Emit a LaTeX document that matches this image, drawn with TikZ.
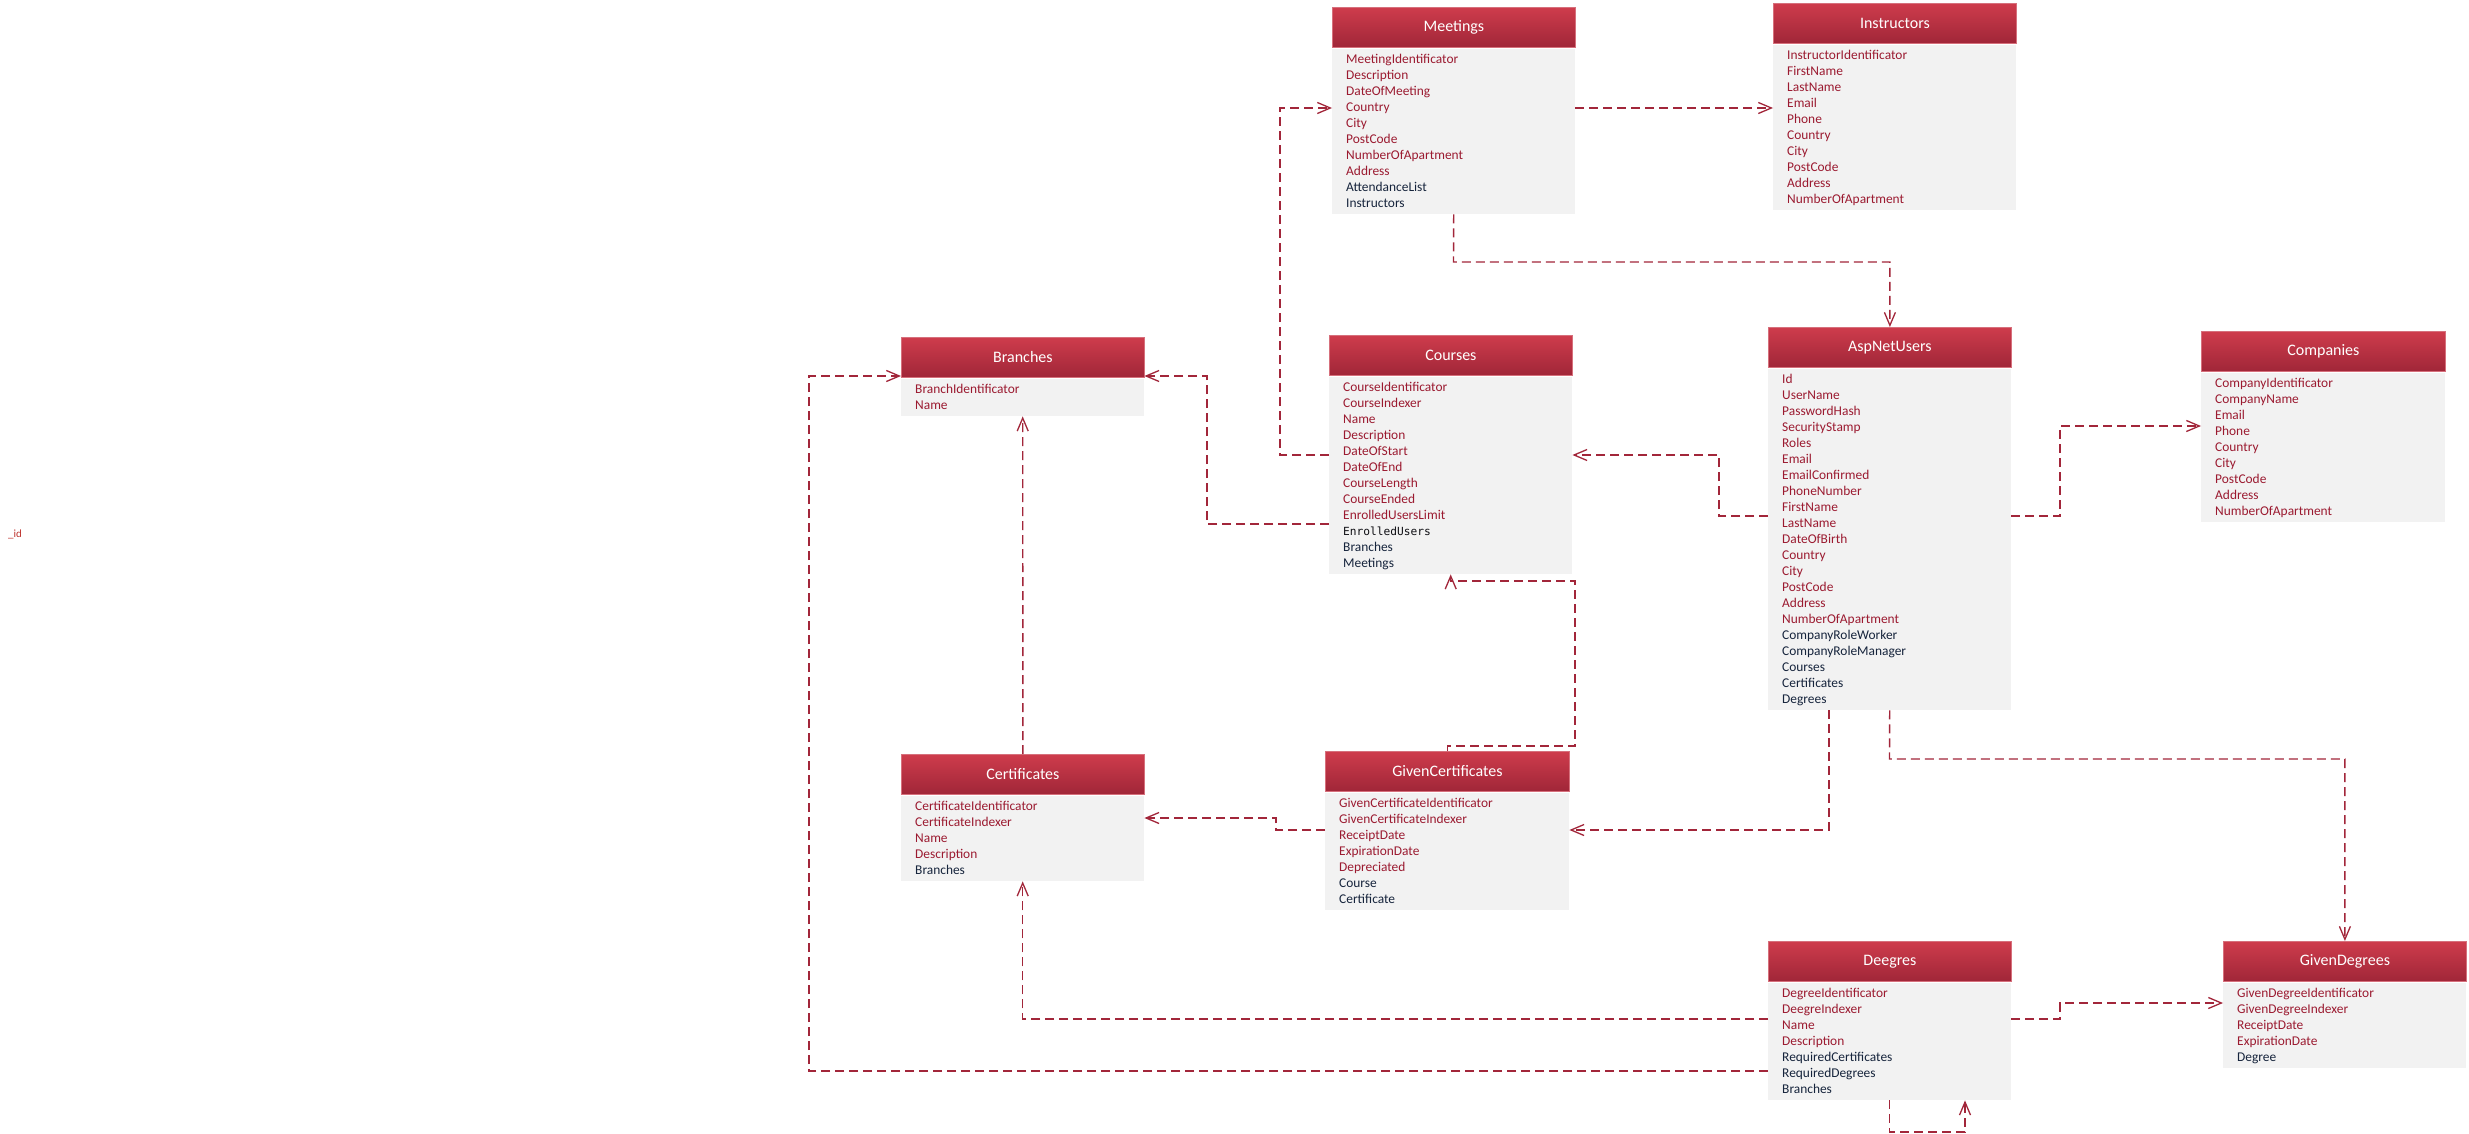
\documentclass[tikz,border=0pt]{standalone}
\usepackage{fontspec}
\setmainfont{Carlito}
\newfontfamily\monofam{DejaVu Sans Mono}
\usetikzlibrary{arrows.meta,calc}

\definecolor{hdrtop}{RGB}{206,60,76}
\definecolor{hdrbot}{RGB}{160,38,56}
\definecolor{hdrline}{RGB}{214,112,124}
\definecolor{bodyfill}{RGB}{242,242,242}
\definecolor{rowr}{RGB}{155,26,48}
\definecolor{rown}{RGB}{22,36,60}
\definecolor{rowm}{RGB}{15,15,20}
\definecolor{relcol}{RGB}{162,38,58}
\definecolor{idcol}{RGB}{190,50,45}

% per-kind font switches for the attribute rows
\newcommand{\rowfontr}{}
\newcommand{\rowfontn}{}
\newcommand{\rowfontm}{\monofam\fontsize{11.2}{16}\selectfont}

\tikzset{
  hdr/.style={rectangle, draw=hdrline, line width=0.8pt, top color=hdrtop,
    bottom color=hdrbot, minimum height=40pt, inner sep=0pt, text=white,
    font=\fontsize{16}{18}\selectfont, anchor=north west},
  bodybox/.style={rectangle, fill=bodyfill, inner sep=0pt, anchor=north west},
  fld/.style={anchor=base west, inner sep=0pt, font=\fontsize{13.4}{16}\selectfont},
  rel/.style={draw=relcol, line width=1.4pt, dash pattern=on 9pt off 5pt,
    -{Straight Barb[length=13pt,width=11pt,line width=1.3pt]}},
}

% entity: name, title, left x, top y, width, number of rows, rows (kind/text)
\newcommand{\entbox}[7]{%
  \node[hdr, minimum width=#5pt] (#1-h) at (#3,#4) {#2};
  \node[bodybox, minimum width=#5pt, minimum height={21pt+16pt*(#6-1)}] (#1) at (#3,#4+42) {};
  \foreach [count=\ri] \rk/\rt in {#7} {
    \node[fld, text=row\rk] at (#3+14, #4+56.5+16*\ri-16) {\csname rowfont\rk\endcsname\rt};
  }
}

\begin{document}
\begin{tikzpicture}[x=1pt, y=-1pt]
\fill[white] (0,0) rectangle (2469,1134);
\useasboundingbox (0,0) rectangle (2469,1134);

\node[anchor=base west, inner sep=0pt, text=idcol, font=\fontsize{11}{13}\selectfont] (idlabel) at (8,537) {\_id};

\entbox{meet}{Meetings}{1332}{7}{243}{10}{r/MeetingIdentificator, r/Description, r/DateOfMeeting, r/Country, r/City, r/PostCode, r/NumberOfApartment, r/Address, n/AttendanceList, n/Instructors}

\entbox{instr}{Instructors}{1773}{3}{243}{10}{r/InstructorIdentificator, r/FirstName, r/LastName, r/Email, r/Phone, r/Country, r/City, r/PostCode, r/Address, r/NumberOfApartment}

\entbox{br}{Branches}{901}{337}{243}{2}{r/BranchIdentificator, r/Name}

\entbox{crs}{Courses}{1329}{335}{243}{12}{r/CourseIdentificator, r/CourseIndexer, r/Name, r/Description, r/DateOfStart, r/DateOfEnd, r/CourseLength, r/CourseEnded, r/EnrolledUsersLimit, m/EnrolledUsers, n/Branches, n/Meetings}

\entbox{asp}{AspNetUsers}{1768}{327}{243}{21}{r/Id, r/UserName, r/PasswordHash, r/SecurityStamp, r/Roles, r/Email, r/EmailConfirmed, r/PhoneNumber, r/FirstName, r/LastName, r/DateOfBirth, r/Country, r/City, r/PostCode, r/Address, r/NumberOfApartment, n/CompanyRoleWorker, n/CompanyRoleManager, n/Courses, n/Certificates, n/Degrees}

\entbox{comp}{Companies}{2201}{331}{244}{9}{r/CompanyIdentificator, r/CompanyName, r/Email, r/Phone, r/Country, r/City, r/PostCode, r/Address, r/NumberOfApartment}

\entbox{cert}{Certificates}{901}{754}{243}{5}{r/CertificateIdentificator, r/CertificateIndexer, r/Name, r/Description, n/Branches}

\entbox{gc}{GivenCertificates}{1325}{751}{244}{7}{r/GivenCertificateIdentificator, r/GivenCertificateIndexer, r/ReceiptDate, r/ExpirationDate, r/Depreciated, n/Course, n/Certificate}

\entbox{deg}{Deegres}{1768}{941}{243}{7}{r/DegreeIdentificator, r/DeegreIndexer, r/Name, r/Description, n/RequiredCertificates, n/RequiredDegrees, n/Branches}

\entbox{gd}{GivenDegrees}{2223}{941}{243}{5}{r/GivenDegreeIdentificator, r/GivenDegreeIndexer, r/ReceiptDate, r/ExpirationDate, n/Degree}

% relationships
\draw[rel] (meet.east |- 0,108) -- (instr.west |- 0,108);
\draw[rel] (crs.west |- 0,455) -- (1280,455) |- (meet.west |- 0,108);
\draw[rel] (meet.south) -- (1453.5,262) -| (asp-h.north);
\draw[rel] (crs.west |- 0,524) -- (1207,524) |- (br.east |- 0,376);
\draw[rel] (asp.west |- 0,516) -- (1719,516) |- (crs.east |- 0,455);
\draw[rel] (asp.east |- 0,516) -- (2060,516) |- (comp.west |- 0,426);
\draw[rel] (cert-h.north) -- (br.south);
\draw[rel] (gc-h.north) |- (1575,746) -- (1575,581) -| (crs.south);
\draw[rel] (gc.west |- 0,830) -- (1276,830) |- (cert.east |- 0,818);
\draw[rel] (asp.south -| 1829,0) |- (gc.east |- 0,830);
\draw[rel] (asp.south) -- (1889.5,759) -| (gd-h.north);
\draw[rel] (deg.east |- 0,1019) -- (2060,1019) |- (gd.west |- 0,1003);
\draw[rel] (deg.west |- 0,1019) -| (cert.south);
\draw[rel] (deg.west |- 0,1071) -- (809,1071) |- (br.west |- 0,376);
\draw[rel] (deg.south) |- (1965,1132) -- (deg.south -| 1965,0);
\end{tikzpicture}
\end{document}
